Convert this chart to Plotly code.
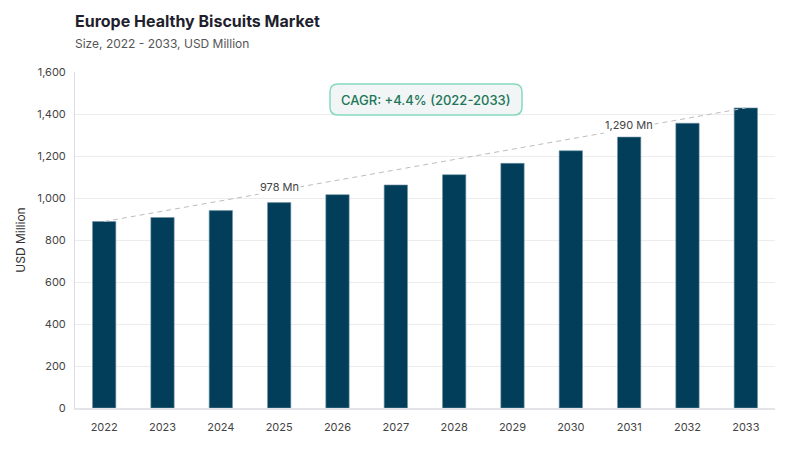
import plotly.graph_objects as go

# market size, USD million
years = ["2022", "2023", "2024", "2025", "2026", "2027",
         "2028", "2029", "2030", "2031", "2032", "2033"]
values = [888, 907, 940, 978, 1016, 1062, 1111, 1165, 1225, 1290, 1356, 1429]
labelled = {"2025": "978 Mn", "2031": "1,290 Mn"}
cagr_text = "CAGR: +4.4% (2022-2033)"

font = "Inter"

fig = go.Figure()

fig.add_trace(go.Bar(
    x=years,
    y=values,
    marker=dict(color="#023e5a", line=dict(color="#6f93a6", width=0.6)),
    width=0.4,
    hoverinfo="x+y",
))

# dashed trend line from the first bar to the last one
fig.add_trace(go.Scatter(
    x=[years[0], years[-1]],
    y=[values[0], values[-1]],
    mode="lines",
    line=dict(color="#bdbdbd", width=1, dash="5px,4px"),
    hoverinfo="skip",
))

# value labels sitting on the trend line
n = len(years) - 1
for yr, txt in labelled.items():
    i = years.index(yr)
    on_line = values[0] + (values[-1] - values[0]) * i / n
    fig.add_annotation(
        x=i, y=on_line, text=txt, showarrow=False, yshift=4,
        font=dict(family=font, size=11, color="#444"),
        bgcolor="white", borderpad=1,
    )

# rounded CAGR box (paper coords, plot area is 700x336 px)
x0, x1, y0, y1 = 330, 522, 84, 115
pl, pt, pw, ph = 75, 72, 700, 336
r = 8
def px(x):
    return (x - pl) / pw
def py(y):
    return 1 - (y - pt) / ph
path = (
    f"M {px(x0 + r)} {py(y0)} L {px(x1 - r)} {py(y0)} "
    f"Q {px(x1)} {py(y0)} {px(x1)} {py(y0 + r)} "
    f"L {px(x1)} {py(y1 - r)} Q {px(x1)} {py(y1)} {px(x1 - r)} {py(y1)} "
    f"L {px(x0 + r)} {py(y1)} Q {px(x0)} {py(y1)} {px(x0)} {py(y1 - r)} "
    f"L {px(x0)} {py(y0 + r)} Q {px(x0)} {py(y0)} {px(x0 + r)} {py(y0)} Z"
)
fig.add_shape(type="path", path=path, xref="paper", yref="paper",
              line=dict(color="#86d9bf", width=1.5), fillcolor="#f1f5f5")
fig.add_annotation(
    x=px((x0 + x1) / 2), y=py((y0 + y1) / 2), xref="paper", yref="paper",
    xanchor="center", yanchor="middle",
    text=cagr_text, showarrow=False,
    font=dict(family=font, size=13, color="#1d7658", weight=500),
)

fig.update_layout(
    width=800, height=450,
    margin=dict(l=75, r=25, t=72, b=42),
    plot_bgcolor="white", paper_bgcolor="white",
    showlegend=False,
    bargap=0.6,
    font=dict(family=font, color="#444"),
    title=dict(
        text="<b>Europe Healthy Biscuits Market</b><br>"
             "<span style='font-size:12px;color:#555;font-weight:normal'>Size, 2022 - 2033, USD Million</span>",
        x=75 / 800, xanchor="left", y=0.94, yanchor="top",
        font=dict(family=font, size=16, color="#1f1f2e"),
    ),
    xaxis=dict(
        type="category",
        range=[-0.5, len(years) - 0.5],
        showgrid=False,
        showline=True, linecolor="#e3e3e8", linewidth=2,
        ticks="", tickfont=dict(size=11, color="#444"),
        ticklabelstandoff=8,
    ),
    yaxis=dict(
        range=[0, 1600], dtick=200, tickformat=",",
        showgrid=True, gridcolor="#ececec", gridwidth=1,
        zeroline=False,
        showline=True, linecolor="#dcdce6", linewidth=1,
        ticks="outside", ticklen=6, tickcolor="white",
        tickfont=dict(size=11, color="#444"),
        title=dict(text="USD Million", font=dict(size=12, color="#333"), standoff=8),
    ),
)

fig.write_html("out.html", config={"displayModeBar": False},
               post_script="document.body.style.margin='0';")
